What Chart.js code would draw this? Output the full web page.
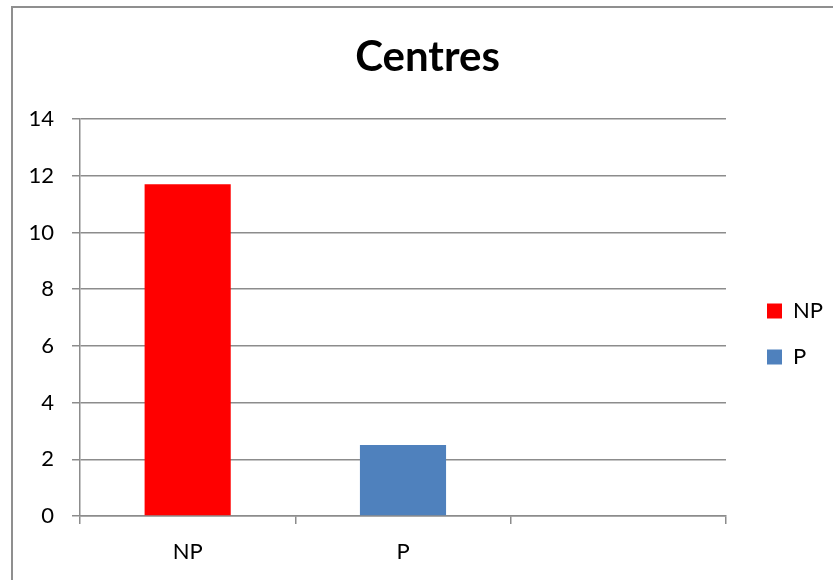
<!DOCTYPE html>
<html>
<head>
<meta charset="utf-8">
<script src="https://cdn.jsdelivr.net/npm/chart.js@4"></script>
<style>
  html, body { margin: 0; padding: 0; background: #fff; }
  #wrap { position: relative; width: 833px; height: 580px; overflow: hidden; }
  #frame { position: absolute; left: 11px; top: 6px; width: 900px; height: 700px;
           border: 2px solid #8f8f8f; box-sizing: border-box; pointer-events: none; }
</style>
</head>
<body>
<div id="wrap">
  <canvas id="myChart" width="833" height="580"></canvas>
  <div id="frame"></div>
</div>
<script>
var categories = ['NP', 'P', ''];
var npValues = [11.7, null, null];
var pValues = [null, 2.5, null];
var yTicks = [0, 2, 4, 6, 8, 10, 12, 14];

document.addEventListener('DOMContentLoaded', function() {
    var ctx = document.getElementById('myChart').getContext('2d');
    Chart.defaults.font.family = 'Lato, "Liberation Sans", sans-serif';
    Chart.defaults.color = '#000';
    var myChart = new Chart(ctx, {
        type: 'bar',
        data: {
            labels: categories,
            datasets: [{
                label: 'NP',
                data: npValues,
                backgroundColor: '#ff0000'
            }, {
                label: 'P',
                data: pValues,
                backgroundColor: '#4f81bd'
            }]
        },
        options: {
            responsive: false,
            animation: false,
            skipNull: true,
            categoryPercentage: 1.0,
            barPercentage: 0.4,
            layout: { padding: { left: 22, right: 0, top: 0, bottom: 0 } },
            plugins: {
                title: {
                    display: true,
                    text: 'Centres',
                    font: { size: 42, weight: 'bold' },
                    padding: { top: 32, bottom: 36.6 }
                },
                legend: {
                    position: 'right',
                    // empty legend title only pushes the items down
                    title: { display: true, text: '', font: { size: 22 }, padding: { top: 61.6, bottom: 0 } },
                    labels: {
                        font: { size: 22 },
                        boxWidth: 15,
                        boxHeight: 15,
                        padding: 24
                    }
                },
                tooltip: { enabled: false }
            },
            scales: {
                x: {
                    grid: {
                        offset: true,
                        drawOnChartArea: false,
                        drawTicks: true,
                        tickLength: 8,
                        color: '#8c8c8c',
                        lineWidth: 1.5
                    },
                    border: { color: '#8c8c8c', width: 1.5 },
                    ticks: { font: { size: 22 }, padding: 15 },
                    afterFit: function(scale) { scale.height = 64; }
                },
                y: {
                    min: 0,
                    max: 14,
                    afterBuildTicks: function(scale) {
                        scale.ticks = yTicks.map(function(v) { return { value: v }; });
                    },
                    grid: {
                        color: '#8c8c8c',
                        lineWidth: 1.5,
                        tickLength: 8
                    },
                    border: { color: '#8c8c8c', width: 1.5 },
                    ticks: { font: { size: 22 }, padding: 18 },
                    afterFit: function(scale) { scale.width = 58; }
                },
                // blank spacer between the plot and the legend
                gap: {
                    position: 'right',
                    grid: { display: false },
                    border: { display: false },
                    ticks: { display: false },
                    afterFit: function(scale) { scale.width = 17; }
                }
            }
        }
    });
});
</script>
</body>
</html>
